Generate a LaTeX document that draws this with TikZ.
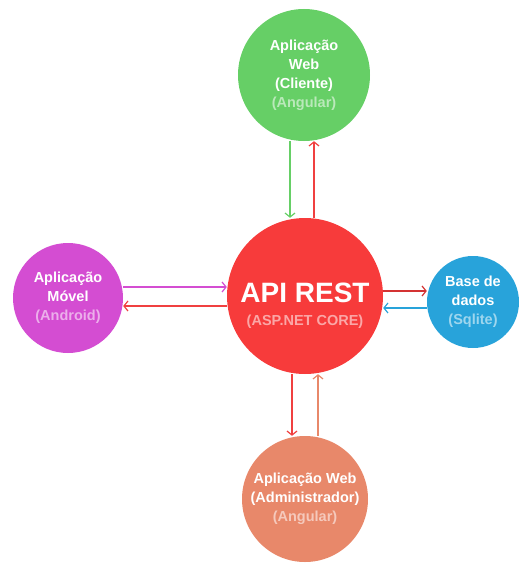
\documentclass[tikz,border=0pt]{standalone}
\usepackage{fontspec}
\setmainfont{Liberation Sans}
\usetikzlibrary{arrows.meta}

\definecolor{webgreen}{HTML}{66CF66}
\definecolor{apired}{HTML}{F73B3B}
\definecolor{arrowred}{HTML}{F04040}
\definecolor{darkred}{HTML}{D43333}
\definecolor{dbblue}{HTML}{28A3DA}
\definecolor{mobpink}{HTML}{D44DD2}
\definecolor{admorange}{HTML}{E8886A}

\begin{document}
\begin{tikzpicture}[x=1pt,y=-1pt,
  circ/.style={circle,inner sep=0pt,text=white,align=center,font=\bfseries\fontsize{14.5}{19}\selectfont},
  link/.style={-{Straight Barb[length=4pt,width=10pt]},line width=1.2pt}]
\useasboundingbox (0,0) rectangle (530,575);
%\draw[help lines,step=50] (0,0) grid (530,575);
\node[circ,fill=webgreen,minimum size=132pt] (web) at (304,75) {Aplicação\\Web\\(Cliente)\\\textcolor{webgreen!45!white}{(Angular)}};
\node[circ,fill=apired,minimum size=156pt] (api) at (305,296) {};
\node[text=white,align=center,font=\bfseries\fontsize{14.5}{23}\selectfont] (apitext) at (305,306) {{\fontsize{28}{23}\selectfont API REST}\\\textcolor{apired!45!white}{(ASP.NET CORE)}};
\node[circ,fill=mobpink,minimum size=110pt] (mob) at (68,298) {Aplicação\\Móvel\\\textcolor{mobpink!45!white}{(Android)}};
\node[circ,fill=dbblue,minimum size=92pt] (db) at (473,302) {Base de\\dados\\\textcolor{dbblue!45!white}{(Sqlite)}};
\node[circ,fill=admorange,minimum size=126pt] (adm) at (305,499) {Aplicação Web\\(Administrador)\\\textcolor{admorange!45!white}{(Angular)}};
\draw[link,webgreen] ([xshift=-14pt]web.south) -- ([xshift=-14pt]web.south |- api.north);
\draw[link,arrowred] ([xshift=9pt]api.north) -- ([xshift=9pt]api.north |- web.south);
\draw[link,mobpink] ([yshift=11pt]mob.east) -- ([yshift=11pt]mob.east -| api.west);
\draw[link,arrowred] ([yshift=-10pt]api.west) -- ([yshift=-10pt]api.west -| mob.east);
\draw[link,darkred] ([yshift=5pt]api.east) -- ([yshift=5pt]api.east -| db.west);
\draw[link,dbblue] ([yshift=-6pt]db.west) -- ([yshift=-6pt]db.west -| api.east);
\draw[link,arrowred] ([xshift=-13pt]api.south) -- ([xshift=-13pt]api.south |- adm.north);
\draw[link,admorange] ([xshift=13pt]adm.north) -- ([xshift=13pt]adm.north |- api.south);
\end{tikzpicture}
\end{document}
